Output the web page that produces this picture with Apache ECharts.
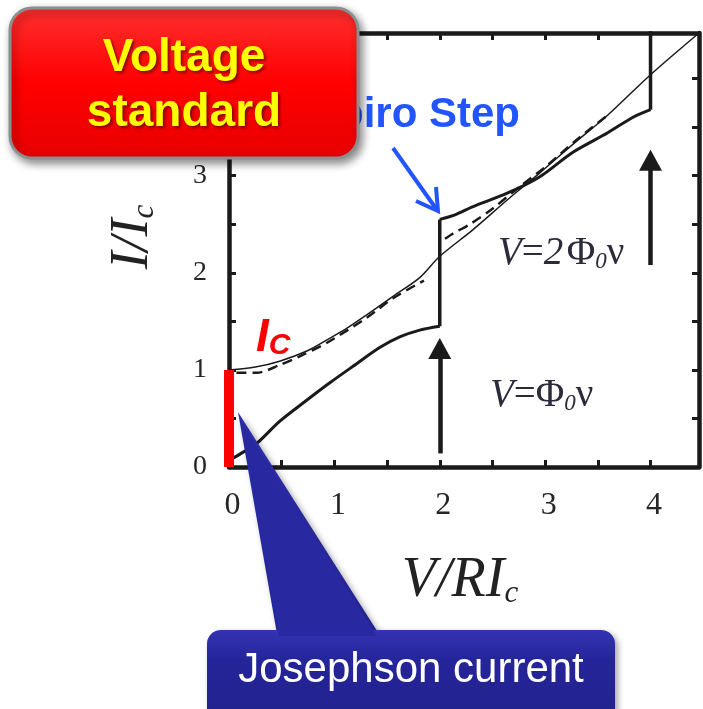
<!DOCTYPE html>
<html>
<head>
<meta charset="utf-8">
<script src="https://cdn.jsdelivr.net/npm/echarts@6/dist/echarts.min.js"></script>
<style>
  html, body { margin: 0; padding: 0; background: #fff; }
  #chart { width: 703px; height: 709px; }
</style>
</head>
<body>
<div id="chart"></div>
<script>
// curves, [V/RIc, I/Ic]
var thinCurve = [[0, 1.0], [0.25, 1.03], [0.48, 1.09], [0.75, 1.2], [0.93, 1.31], [1.12, 1.43],
    [1.31, 1.57], [1.56, 1.76], [1.81, 1.95], [2.0, 2.17], [2.31, 2.44], [2.64, 2.75],
    [2.95, 3.03], [3.26, 3.32], [3.59, 3.62], [4.0, 4.04], [4.46, 4.47]];
var dashLow = [[0.07, 0.97], [0.26, 0.97], [0.48, 1.05], [0.67, 1.14], [0.93, 1.28],
    [1.31, 1.54], [1.56, 1.74], [1.85, 1.92]];
var dashHigh = [[2.05, 2.35], [2.12, 2.4], [2.3, 2.51], [2.5, 2.66], [2.75, 2.88],
    [3.0, 3.09], [3.3, 3.37], [3.6, 3.63]];
var thickLow = [[0.02, 0.08], [0.1, 0.13], [0.26, 0.24], [0.48, 0.47], [0.74, 0.69],
    [0.96, 0.87], [1.18, 1.04], [1.43, 1.23], [1.62, 1.34], [1.81, 1.41], [2.0, 1.45]];
var thickHigh = [[2.0, 2.55], [2.15, 2.6], [2.31, 2.68], [2.64, 2.82], [2.95, 2.99],
    [3.26, 3.24], [3.59, 3.44], [3.83, 3.6], [4.0, 3.68]];
var step1 = [[2, 1.45], [2, 2.55]];
var step2 = [[4, 3.68], [4, 4.6]];
var arrow1 = [[2, 0.14], [2, 1.22]];
var arrow2 = [[4, 2.08], [4, 3.16]];
var icBar = [[0, 0], [0, 1]];
var xTicks = ['0', '1', '2', '3', '4'];
var yTicks = ['0', '1', '2', '3'];

var ink = '#1a1a1a';
var serif = 'Liberation Serif';
var sans = 'Liberation Sans';

function intLabel(v) {
    var s = String(Math.round(v));
    return Math.abs(v - Math.round(v)) < 1e-6 ? s : '';
}

function frameAxis(pos, max, labels, isX) {
    return {
        type: 'value',
        position: pos,
        min: 0,
        max: max,
        interval: 0.5,
        axisLine: { show: true, onZero: false, lineStyle: { color: ink, width: 4.5 } },
        axisTick: { show: true, inside: true, length: 7, lineStyle: { color: ink, width: 3 } },
        axisLabel: {
            show: labels,
            formatter: function (v) {
                var t = intLabel(v);
                var list = isX ? xTicks : yTicks;
                return list.indexOf(t) >= 0 ? t : '';
            },
            fontFamily: serif,
            fontSize: isX ? 32 : 28,
            color: '#262626',
            margin: isX ? 23 : 22,
            padding: isX ? [0, 0, 0, 7] : [8, 0, 0, 0]
        },
        splitLine: { show: false }
    };
}

function arrowSeries(pts) {
    return {
        type: 'line',
        data: [],
        silent: true,
        markLine: {
            silent: true,
            symbol: ['none', 'triangle'],
            symbolSize: [23, 21],
            label: { show: false },
            lineStyle: { color: ink, width: 4.5, type: 'solid' },
            emphasis: { disabled: true },
            data: [[{ coord: pts[0] }, { coord: pts[1] }]]
        }
    };
}

function curve(data, width, dash, smooth) {
    return {
        type: 'line',
        data: data,
        smooth: smooth,
        symbol: 'none',
        silent: true,
        lineStyle: { color: ink, width: width, type: dash || 'solid' },
        z: 3
    };
}

var formulaRich = {
    v: { fontFamily: serif, fontStyle: 'italic', fontSize: 39, fill: '#2b2b3b', verticalAlign: 'bottom', lineHeight: 44 },
    n: { fontFamily: serif, fontSize: 39, fill: '#2b2b3b', verticalAlign: 'bottom', lineHeight: 44 },
    s: { fontFamily: serif, fontStyle: 'italic', fontSize: 23, fill: '#2b2b3b', verticalAlign: 'bottom', lineHeight: 33 }
};

var option = {
    backgroundColor: '#fff',
    animation: false,
    grid: { left: 229, width: 470, top: 33, height: 434 },
    xAxis: [frameAxis('bottom', 4.46, true, true), frameAxis('top', 4.46, false, true)],
    yAxis: [frameAxis('left', 4.47, true, false), frameAxis('right', 4.47, false, false)],
    series: [
        curve(thinCurve, 1.5, null, 0.3),
        curve(dashLow, 2.5, [10, 6], 0.3),
        curve(dashHigh, 2.5, [10, 6], 0.3),
        curve(thickLow, 3, null, 0.3),
        curve(thickHigh, 3, null, 0.3),
        curve(step1, 3.5, null, false),
        curve(step2, 3.5, null, false),
        arrowSeries(arrow1),
        arrowSeries(arrow2),
        {
            type: 'line',
            data: icBar,
            symbol: 'none',
            silent: true,
            clip: false,
            lineStyle: { color: '#ff0000', width: 10, cap: 'butt' },
            z: 5
        }
    ],
    graphic: [
        // axis names
        {
            type: 'text', x: 460, y: 578, z: 50,
            style: {
                text: '{m|V/RI}{s|c}', align: 'center', verticalAlign: 'middle',
                rich: {
                    m: { fontFamily: serif, fontStyle: 'italic', fontSize: 56, fill: '#222', verticalAlign: 'bottom', lineHeight: 62 },
                    s: { fontFamily: serif, fontStyle: 'italic', fontSize: 31, fill: '#222', verticalAlign: 'bottom', lineHeight: 47 }
                }
            }
        },
        {
            type: 'text', x: 130, y: 237, rotation: Math.PI / 2, z: 50,
            style: {
                text: '{m|I/I}{s|c}', align: 'center', verticalAlign: 'middle',
                rich: {
                    m: { fontFamily: serif, fontStyle: 'italic', fontSize: 54, fill: '#222', verticalAlign: 'bottom', lineHeight: 60 },
                    s: { fontFamily: serif, fontStyle: 'italic', fontSize: 31, fill: '#222', verticalAlign: 'bottom', lineHeight: 45 }
                }
            }
        },
        // formulas
        {
            type: 'text', x: 490, y: 393, z: 50,
            style: { text: '{v|V}{n|=Φ}{s|0}{n|ν}', verticalAlign: 'middle', rich: formulaRich }
        },
        {
            type: 'text', x: 498, y: 251, z: 50,
            style: { text: '{v|V}{n|=}{v|2} {n|Φ}{s|0}{n|ν}', verticalAlign: 'middle', rich: formulaRich }
        },
        // Ic label
        {
            type: 'text', x: 256, y: 339, z: 60,
            style: {
                text: '{i|I}{c|C}', verticalAlign: 'middle',
                rich: {
                    i: { fontFamily: sans, fontWeight: 'bold', fontStyle: 'italic', fontSize: 46, fill: '#ff0000', verticalAlign: 'bottom', lineHeight: 44 },
                    c: { fontFamily: sans, fontWeight: 'bold', fontStyle: 'italic', fontSize: 30, fill: '#ff0000', verticalAlign: 'bottom', lineHeight: 22 }
                }
            }
        },
        // Shapiro step label + arrow (under the red box)
        {
            type: 'text', x: 520, y: 115, z: 100,
            style: { text: 'Shapiro Step', align: 'right', verticalAlign: 'middle', fontFamily: sans, fontWeight: 'bold', fontSize: 42, fill: '#2255ff' }
        },
        {
            type: 'polyline', z: 100,
            shape: { points: [[393, 148], [437, 210]] },
            style: { stroke: '#2255ff', lineWidth: 4, fill: null }
        },
        {
            type: 'polyline', z: 100,
            shape: { points: [[416, 201], [438, 211], [436, 187]] },
            style: { stroke: '#2255ff', lineWidth: 4, fill: null, lineJoin: 'miter' }
        },
        // red box
        {
            type: 'rect', z: 120,
            shape: { x: 10, y: 8, width: 348, height: 150, r: 22 },
            style: {
                fill: new echarts.graphic.LinearGradient(0, 0, 0, 1, [
                    { offset: 0, color: '#ff3030' }, { offset: 0.5, color: '#ff0000' }, { offset: 1, color: '#e80000' }
                ]),
                stroke: '#8a8f8f', lineWidth: 3,
                shadowBlur: 8, shadowOffsetX: 3, shadowOffsetY: 4, shadowColor: 'rgba(0,0,0,0.45)'
            }
        },
        {
            type: 'text', x: 184, y: 86, z: 121,
            style: {
                text: 'Voltage\nstandard', align: 'center', verticalAlign: 'middle', lineHeight: 55,
                fontFamily: sans, fontWeight: 'bold', fontSize: 46, fill: '#ffff00',
                textShadowColor: 'rgba(60,0,0,0.6)', textShadowBlur: 3, textShadowOffsetX: 2, textShadowOffsetY: 2
            }
        },
        // blue callout
        {
            type: 'polygon', z: 130,
            shape: { points: [[238, 412], [277, 634], [379, 634]] },
            style: {
                fill: new echarts.graphic.LinearGradient(0, 0, 1, 1, [
                    { offset: 0, color: '#2e2eaa' }, { offset: 1, color: '#22228f' }
                ]),
                shadowBlur: 6, shadowOffsetX: 3, shadowOffsetY: 3, shadowColor: 'rgba(0,0,0,0.35)'
            }
        },
        {
            type: 'rect', z: 131,
            shape: { x: 207, y: 630, width: 408, height: 100, r: 14 },
            style: {
                fill: new echarts.graphic.LinearGradient(0, 0, 0, 1, [
                    { offset: 0, color: '#3434b4' }, { offset: 0.3, color: '#25259a' }, { offset: 1, color: '#20208c' }
                ]),
                shadowBlur: 6, shadowOffsetX: 3, shadowOffsetY: 3, shadowColor: 'rgba(0,0,0,0.35)'
            }
        },
        {
            type: 'polygon', z: 132,
            shape: { points: [[240, 420], [279, 636], [377, 636]] },
            style: { fill: '#2828a0' }
        },
        {
            type: 'text', x: 411, y: 670, z: 133,
            style: { text: 'Josephson current', align: 'center', verticalAlign: 'middle', fontFamily: sans, fontSize: 42, fill: '#ffffff' }
        }
    ]
};

var chart = echarts.init(document.getElementById('chart'));
chart.setOption(option);
</script>
</body>
</html>
